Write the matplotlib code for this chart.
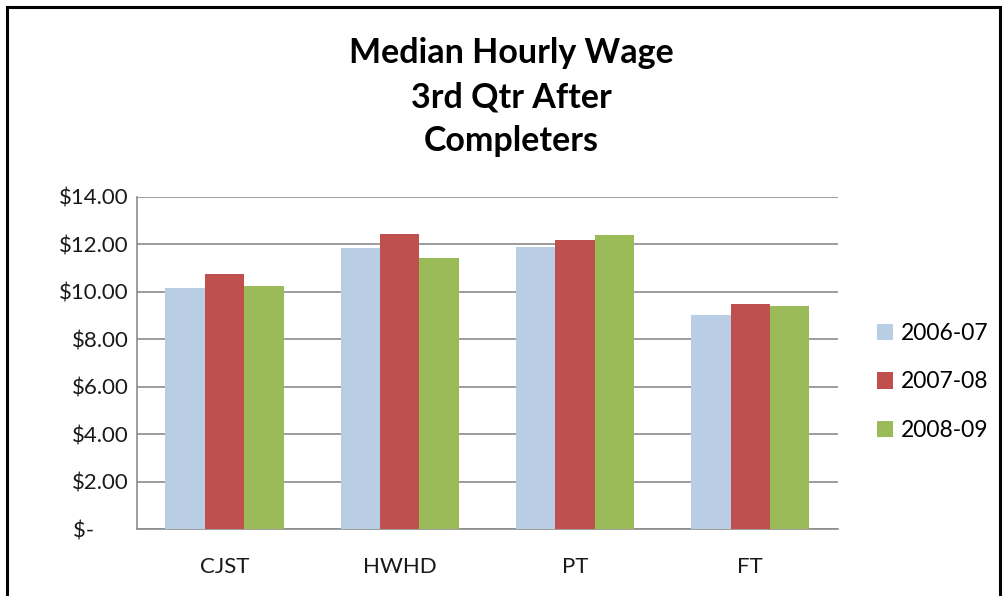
import numpy as np
import matplotlib
matplotlib.use('Agg')
import matplotlib.pyplot as plt
from matplotlib.patches import Rectangle
from matplotlib.ticker import FuncFormatter

# data
categories = ["CJST", "HWHD", "PT", "FT"]
series_names = ["2006-07", "2007-08", "2008-09"]
wage_0607 = [10.18, 11.85, 11.91, 9.05]
wage_0708 = [10.77, 12.46, 12.18, 9.48]
wage_0809 = [10.24, 11.42, 12.40, 9.42]
y_ticks = [0, 2, 4, 6, 8, 10, 12, 14]

colors = ['#B9CDE5', '#C0504D', '#9BBB59']
plt.rcParams['font.family'] = ['Lato', 'DejaVu Sans']

fig = plt.figure(figsize=(10.07, 5.96), dpi=100, facecolor='white')
ax = fig.add_axes([0.136, 0.1116, 0.696, 0.558])

x = np.arange(len(categories))
bar_w = 0.225
for i, (vals, name) in enumerate(zip([wage_0607, wage_0708, wage_0809], series_names)):
    ax.bar(x + (i - 1) * bar_w, vals, width=bar_w, color=colors[i], label=name, zorder=3)

ax.set_xlim(-0.5, len(categories) - 0.5)
ax.set_ylim(0, 14)
ax.set_yticks(y_ticks)

def money(v, pos):
    return "$-      " if v == 0 else f"${v:.2f}"

ax.yaxis.set_major_formatter(FuncFormatter(money))
ax.set_xticks(x)
ax.set_xticklabels(categories)
ax.grid(axis='y', color='#8C8C8C', linewidth=1.2, zorder=0)
for side in ['top', 'right']:
    ax.spines[side].set_visible(False)
for side in ['left', 'bottom']:
    ax.spines[side].set_color('#8C8C8C')
    ax.spines[side].set_linewidth(1.2)
ax.tick_params(axis='both', length=0, labelsize=16, colors='#1a1a1a')
ax.tick_params(axis='x', pad=20)
ax.tick_params(axis='y', pad=6)

fig.text(0.508, 1 - 97 / 596, "Median Hourly Wage\n3rd Qtr After\nCompleters", ha='center', va='center',
         fontsize=24.5, fontweight='bold', linespacing=1.48, color='black')

fig.legend(loc='center left', bbox_to_anchor=(877 / 1007, 1 - 382 / 596),
           frameon=False, fontsize=16.5, handlelength=0.7, handleheight=0.7,
           handletextpad=0.35, labelspacing=1.2, borderpad=0, borderaxespad=0)

# outer chart border
fig.patches.append(Rectangle((7 / 1007, -0.1), 993 / 1007, 1.1 - 7 / 596, transform=fig.transFigure,
                             fill=False, edgecolor='black', linewidth=2.2))

fig.savefig("out.png", dpi=100, facecolor='white')
